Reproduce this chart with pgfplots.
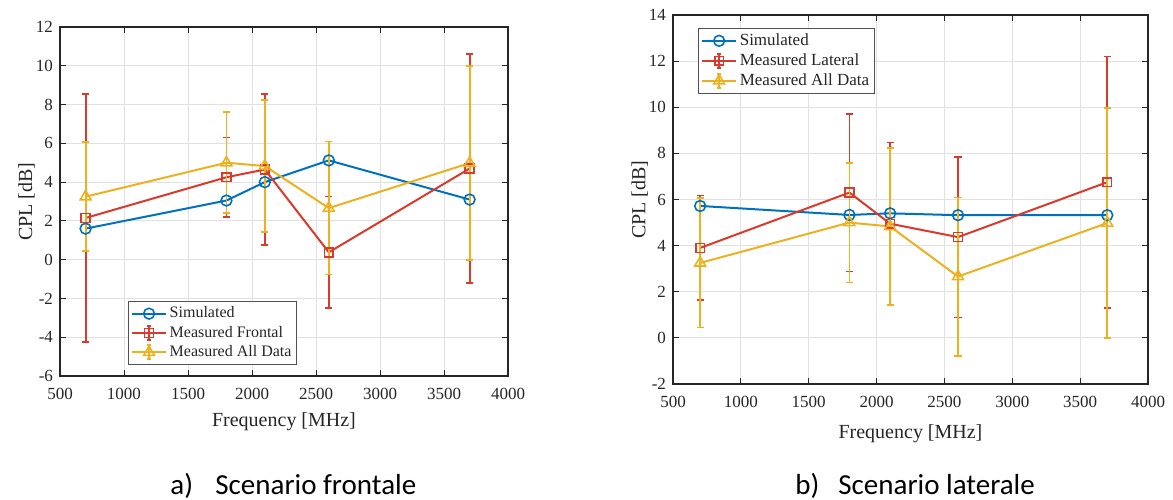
\documentclass[border=0pt]{standalone}
\usepackage{pgfplots}
\pgfplotsset{compat=1.18}
\usepackage{fontspec}
\setmainfont{Liberation Serif}
\newfontfamily\capfont{Carlito}
\definecolor{mblue}{RGB}{0,114,189}
\definecolor{mred}{RGB}{217,58,43}
\definecolor{myel}{RGB}{237,177,32}
\definecolor{axgray}{RGB}{38,38,38}
\definecolor{gridgray}{RGB}{225,225,225}

\pgfplotsset{
  matstyle/.style={
    scale only axis,
    xmin=500, xmax=4000, xtick={500,1000,...,4000},
    grid=major, major grid style={gridgray, line width=0.4pt},
    tick align=inside, major tick length=3pt,
    axis line style={axgray, line width=0.6pt},
    every tick/.style={axgray, line width=0.5pt},
    /pgf/number format/assume math mode=true,
    /pgf/number format/1000 sep={},
    tick label style={font=\fontsize{8.5}{9}\selectfont, text=axgray},
    xticklabel style={yshift=-2.5pt},
    label style={font=\fontsize{10}{12}\selectfont, text=axgray},
    xlabel={Frequency [MHz]}, ylabel={CPL [dB]},
    legend style={font=\fontsize{8}{9}\selectfont, draw=axgray!80, line width=0.5pt,
      inner sep=1.2pt, nodes={inner sep=1.3pt}, text=axgray},
    legend cell align=left,
  },
  errleg/.style={legend image code/.code={
    \draw[##1, mark=none] (0cm,0cm) -- (0.6cm,0cm);
    \draw[##1, mark=none] (0.3cm,-0.12cm) -- (0.3cm,0.12cm);
    \draw[##1, mark=none] (0.26cm,0.12cm) -- (0.34cm,0.12cm) (0.26cm,-0.12cm) -- (0.34cm,-0.12cm);
    \draw[##1, only marks] plot coordinates {(0.3cm,0cm)};
  }},
  simleg/.style={legend image code/.code={
    \draw[##1, mark=none] (0cm,0cm) -- (0.6cm,0cm);
    \draw[##1, only marks] plot coordinates {(0.3cm,0cm)};
  }},
  serstyle/.style={line width=1pt, mark options={solid, line width=0.8pt, fill=none}},
  ebars/.style={error bars/.cd, y dir=both, y explicit,
    error bar style={line width=0.9pt, draw=#1},
    error mark options={rotate=90, mark size=1.8pt, line width=0.9pt, draw=#1}},
}

% Scenario frontale
\pgfplotstableread{
f v
700 1.6
1800 3.05
2100 4.0
2600 5.12
3700 3.1
}\simA
\pgfplotstableread{
f v e
700 2.15 6.4
1800 4.25 2.05
2100 4.65 3.9
2600 0.38 2.88
3700 4.7 5.9
}\frontA
\pgfplotstableread{
f v e
700 3.25 2.8
1800 5.0 2.6
2100 4.83 3.42
2600 2.66 3.43
3700 4.98 5.0
}\allA
% Scenario laterale
\pgfplotstableread{
f v
700 5.72
1800 5.33
2100 5.4
2600 5.32
3700 5.32
}\simB
\pgfplotstableread{
f v e
700 3.9 2.27
1800 6.3 3.42
2100 4.95 3.52
2600 4.37 3.49
3700 6.75 5.45
}\latB
\pgfplotstableread{
f v e
700 3.25 2.8
1800 5.0 2.6
2100 4.83 3.42
2600 2.66 3.43
3700 4.98 5.0
}\allB

\begin{document}
\begin{tikzpicture}[x=1pt,y=1pt]
\path (0,0) rectangle (586.5,249.5);

\begin{axis}[matstyle,
  at={(30pt,61.5pt)}, anchor=south west,
  width=224pt, height=174.5pt,
  ymin=-6, ymax=12, ytick={-6,-4,...,12},
  ylabel style={at={(axis description cs:-0.075,0.5)}, anchor=center},
  xlabel style={at={(axis description cs:0.5,-0.13)}, anchor=center},
  legend style={at={(axis description cs:0.152,0.032)}, anchor=south west},
]
\addplot[mblue, serstyle, mark=o, mark size=2.7pt, simleg] table[x=f,y=v] {\simA};
\addlegendentry{Simulated}
\addplot[mred, serstyle, mark=square, mark size=2.2pt, errleg, ebars=mred] table[x=f,y=v,y error=e] {\frontA};
\addlegendentry{Measured Frontal}
\addplot[myel, serstyle, mark=triangle, mark size=3.1pt, errleg, ebars=myel] table[x=f,y=v,y error=e] {\allA};
\addlegendentry{Measured All Data}
\end{axis}

\begin{axis}[matstyle,
  at={(336.5pt,57.5pt)}, anchor=south west,
  width=237.5pt, height=184.5pt,
  ymin=-2, ymax=14, ytick={-2,0,...,14},
  ylabel style={at={(axis description cs:-0.07,0.5)}, anchor=center},
  xlabel style={at={(axis description cs:0.5,-0.135)}, anchor=center},
  legend style={at={(axis description cs:0.053,0.965)}, anchor=north west, font=\fontsize{8.5}{9.5}\selectfont},
]
\addplot[mblue, serstyle, mark=o, mark size=2.7pt, simleg] table[x=f,y=v] {\simB};
\addlegendentry{Simulated}
\addplot[mred, serstyle, mark=square, mark size=2.2pt, errleg, ebars=mred] table[x=f,y=v,y error=e] {\latB};
\addlegendentry{Measured Lateral}
\addplot[myel, serstyle, mark=triangle, mark size=3.1pt, errleg, ebars=myel] table[x=f,y=v,y error=e] {\allB};
\addlegendentry{Measured All Data}
\end{axis}

\node[anchor=base west, font=\capfont\fontsize{14.5}{16}\selectfont, inner sep=0pt] at (85pt,2.5pt) {a)};
\node[anchor=base west, font=\capfont\fontsize{14.5}{16}\selectfont, inner sep=0pt] at (107.5pt,2.5pt) {Scenario frontale};
\node[anchor=base west, font=\capfont\fontsize{14.5}{16}\selectfont, inner sep=0pt] at (397.5pt,2.5pt) {b)};
\node[anchor=base west, font=\capfont\fontsize{14.5}{16}\selectfont, inner sep=0pt] at (419pt,2.5pt) {Scenario laterale};
\end{tikzpicture}
\end{document}
